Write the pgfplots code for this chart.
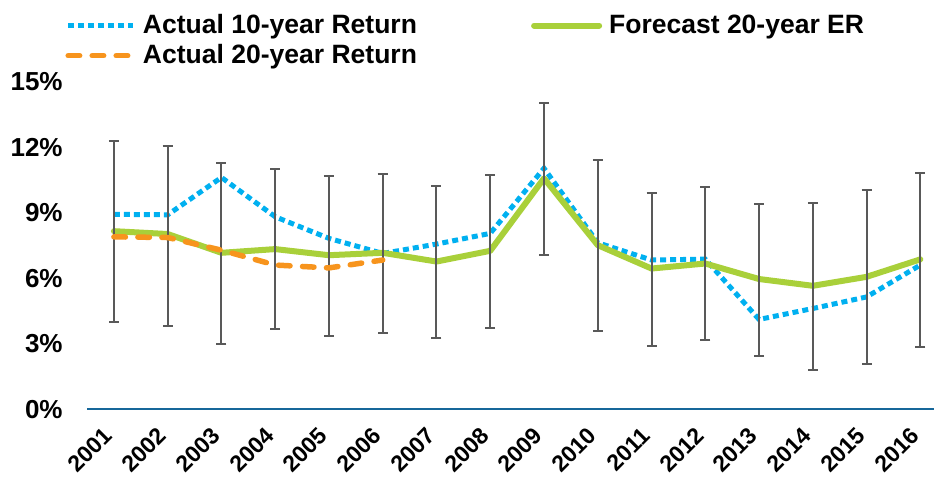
\documentclass[border=0pt]{standalone}
\usepackage{fontspec}
\setmainfont{Liberation Sans}
\usepackage{pgfplots}
\pgfplotsset{compat=1.18}

\definecolor{tenyr}{HTML}{00B0F0}
\definecolor{fcst}{HTML}{A9D03A}
\definecolor{twentyyr}{HTML}{F7941D}
\definecolor{ebgray}{HTML}{595959}
\definecolor{axisblue}{HTML}{16679A}

\begin{document}
\begin{tikzpicture}
\begin{axis}[
    at={(0,0)}, anchor=south west,
    scale only axis,
    width=429.85pt, height=163.75pt,
    xmin=2000.5, xmax=2016.5,
    ymin=0, ymax=15,
    axis x line*=bottom, axis y line*=left,
    x axis line style={draw=axisblue, line width=1pt},
    y axis line style={draw=none},
    major tick length=0pt,
    xtick={2001,...,2016},
    ytick={0,3,...,15},
    /pgf/number format/.cd, 1000 sep={}, assume math mode=true, /pgfplots/.cd,
    yticklabel={\pgfmathprintnumber{\tick}\%},
    y tick label style={font=\fontsize{13}{13}\selectfont\bfseries, anchor=east, inner sep=0pt},
    yticklabel shift=12pt,
    x tick label style={font=\fontsize{11.5}{11.5}\selectfont\bfseries, xshift=-2.65pt, rotate=45, anchor=east, inner sep=0pt},
    xticklabel shift=11pt,
    legend columns=2,
    legend image code/.code={\draw[#1] (0pt,0pt) -- (32.5pt,0pt);},
    legend style={draw=none, fill=none, at={(0,1)}, anchor=north west,
        xshift=-14pt, yshift=35.75pt,
        font=\fontsize{13.25}{13.25}\selectfont\bfseries,
        nodes={inner sep=0pt}, row sep=4pt,
        /tikz/every odd column/.append style={column sep=3.5pt},
        /tikz/every even column/.append style={column sep=57pt}},
]
% actual 10-year return
\addplot[color=tenyr, line width=2.5pt, dash pattern=on 3pt off 2pt] coordinates {
    (2001,8.92) (2002,8.90) (2003,10.61) (2004,8.81) (2005,7.82) (2006,7.13)
    (2007,7.56) (2008,8.05) (2009,11.03) (2010,7.62) (2011,6.83) (2012,6.87)
    (2013,4.11) (2014,4.61) (2015,5.14) (2016,6.60)
};
\addlegendentry{Actual 10-year Return}
% forecast with ranges
\addplot[color=fcst, line width=3pt, line join=round, line cap=round,
    error bars/.cd, y dir=both, y explicit,
    error bar style={color=ebgray, line width=1pt, line cap=butt},
    error mark options={rotate=90, mark size=2.5pt, line width=1pt, color=ebgray}]
coordinates {
    (2001,8.15)  +=(0,4.13) -=(0,4.15)
    (2002,8.02)  +=(0,4.04) -=(0,4.22)
    (2003,7.16)  +=(0,4.09) -=(0,4.17)
    (2004,7.33)  +=(0,3.66) -=(0,3.65)
    (2005,7.05)  +=(0,3.62) -=(0,3.68)
    (2006,7.16)  +=(0,3.62) -=(0,3.68)
    (2007,6.76)  +=(0,3.45) -=(0,3.51)
    (2008,7.25)  +=(0,3.47) -=(0,3.51)
    (2009,10.57) +=(0,3.46) -=(0,3.52)
    (2010,7.51)  +=(0,3.88) -=(0,3.92)
    (2011,6.44)  +=(0,3.47) -=(0,3.55)
    (2012,6.67)  +=(0,3.51) -=(0,3.51)
    (2013,5.96)  +=(0,3.45) -=(0,3.52)
    (2014,5.65)  +=(0,3.79) -=(0,3.85)
    (2015,6.06)  +=(0,3.97) -=(0,3.97)
    (2016,6.86)  +=(0,3.94) -=(0,3.99)
};
\addlegendentry{Forecast 20-year ER}
% actual 20-year return
\addplot[color=twentyyr, line width=2.75pt, line cap=round, dash pattern=on 5.75pt off 6.25pt] coordinates {
    (2001,7.89) (2002,7.86) (2003,7.28) (2004,6.60) (2005,6.47) (2006,6.83)
};
\addlegendentry{Actual 20-year Return}
\end{axis}
\pgfresetboundingbox
\path[use as bounding box] (-43.5pt,-34pt) rectangle (423.25pt,204.5pt);
\end{tikzpicture}
\end{document}
